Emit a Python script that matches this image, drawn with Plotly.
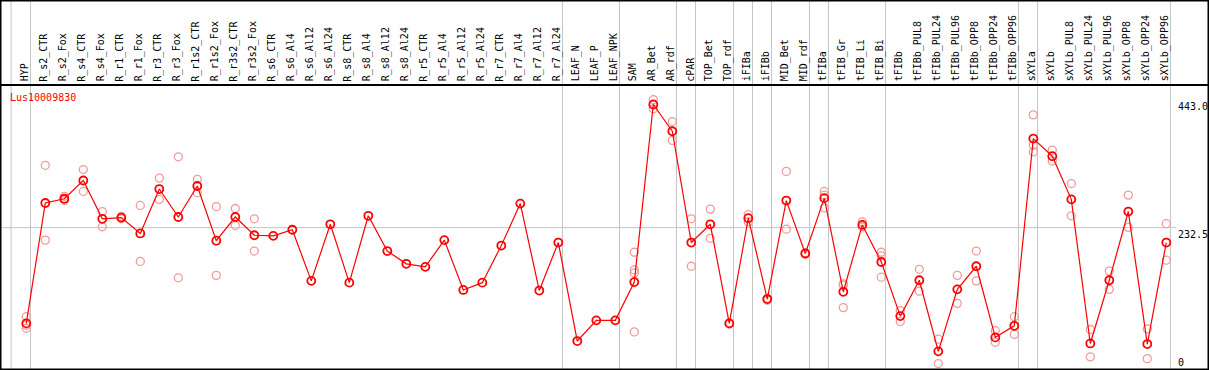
import plotly.graph_objects as go

title = "Lus10009830"

categories = [
    "HYP",
    "R_s2_CTR", "R_s2_Fox", "R_s4_CTR", "R_s4_Fox", "R_r1_CTR", "R_r1_Fox",
    "R_r3_CTR", "R_r3_Fox", "R_r1s2_CTR", "R_r1s2_Fox", "R_r3s2_CTR", "R_r3s2_Fox",
    "R_s6_CTR", "R_s6_Al4", "R_s6_Al12", "R_s6_Al24",
    "R_s8_CTR", "R_s8_Al4", "R_s8_Al12", "R_s8_Al24",
    "R_r5_CTR", "R_r5_Al4", "R_r5_Al12", "R_r5_Al24",
    "R_r7_CTR", "R_r7_Al4", "R_r7_Al12", "R_r7_Al24",
    "LEAF_N", "LEAF_P", "LEAF_NPK",
    "SAM", "AR_Bet", "AR_rdf",
    "cPAR", "TOP_Bet", "TOP_rdf", "iFIBa", "iFIBb", "MID_Bet", "MID_rdf",
    "tFIBa", "tFIB_Gr", "tFIB_Li", "tFIB_Bi",
    "tFIBb", "tFIBb_PUL8", "tFIBb_PUL24", "tFIBb_PUL96", "tFIBb_OPP8", "tFIBb_OPP24", "tFIBb_OPP96",
    "sXYLa", "sXYLb", "sXYLb_PUL8", "sXYLb_PUL24", "sXYLb_PUL96", "sXYLb_OPP8", "sXYLb_OPP24", "sXYLb_OPP96",
]

# number of categories in each separated group
group_sizes = [1, 28, 3, 3, 1, 2, 1, 1, 2, 1, 3, 7, 1, 7]

means = [
    75, 273, 280, 310, 247, 249, 223, 296, 250, 301, 211, 250, 220,
    219, 229, 145, 238, 142, 252, 194, 173, 168, 212, 130, 142, 203, 272, 129, 208,
    46, 80, 80,
    143, 435, 391,
    208, 238, 75, 248, 115, 277, 190, 281, 127, 237, 176,
    87, 146, 29, 131, 169, 52, 71,
    379, 350, 279, 42, 146, 259, 41, 208,
]

replicates = [
    [86, 67, 72], [335, 212], [284, 277, 280], [328, 292], [259, 234], [251, 247],
    [269, 177], [314, 279], [349, 150], [312, 290], [267, 154], [264, 236], [247, 194],
    [], [], [], [], [], [], [], [], [], [], [], [], [], [], [], [],
    [], [], [],
    [192, 163, 158, 61], [443, 428], [407, 376],
    [247, 169], [263, 215], [76, 74], [254, 242], [116, 113], [325, 230], [191, 189],
    [292, 286, 265], [140, 138, 101], [242, 234], [192, 186, 151],
    [96, 78], [164, 128], [49, 9], [154, 108], [194, 145], [63, 44], [86, 57],
    [418, 368, 357], [360, 342], [305, 252], [65, 20], [161, 131], [286, 233], [66, 17], [239, 179],
]

tick_values = [443.0, 232.5, 0]
tick_labels = ["443.0", "232.5", "0"]

W, H = 1209, 370
FONT = "DejaVu Sans Mono"
RED = "#ff0000"
PINK = "#f09a9a"
GRID = "#c4c4c4"

# pixel geometry
x_first_px, x_step_px = 26.3, 19.0
y_zero_px, y_scale = 369.0, 0.608
header_px = 85.0

x_range = [-x_first_px / x_step_px, (W - x_first_px) / x_step_px]
y_range = [-(H - y_zero_px) / y_scale, y_zero_px / y_scale]

xs = list(range(len(categories)))
rx, ry = [], []
for i, reps in enumerate(replicates):
    for v in reps:
        rx.append(i)
        ry.append(v)

fig = go.Figure()
fig.add_trace(go.Scatter(
    x=rx, y=ry, mode="markers",
    marker=dict(symbol="circle-open", size=8, color=PINK, line=dict(width=1.3, color=PINK)),
    hoverinfo="skip", showlegend=False,
))
fig.add_trace(go.Scatter(
    x=xs, y=means, mode="lines+markers",
    line=dict(color=RED, width=1.2),
    marker=dict(symbol="circle-open", size=8, color=RED, line=dict(width=1.8, color=RED)),
    showlegend=False,
))

shapes = []
# group separator lines
bounds = [-0.8]
idx = -1
for g in group_sizes:
    idx += g
    bounds.append(idx + 0.22)
for b in bounds:
    shapes.append(dict(type="line", xref="x", yref="paper", x0=b, x1=b, y0=0, y1=1,
                       line=dict(color=GRID, width=1), layer="below"))
# horizontal grid line at middle tick
shapes.append(dict(type="line", xref="paper", yref="y", x0=0, x1=1176 / W,
                   y0=tick_values[1], y1=tick_values[1],
                   line=dict(color=GRID, width=1), layer="below"))
# header separator
hy = 1 - header_px / H
shapes.append(dict(type="line", xref="paper", yref="paper", x0=0, x1=1, y0=hy, y1=hy,
                   line=dict(color="black", width=2)))
# border
shapes.append(dict(type="rect", xref="paper", yref="paper", x0=0, x1=1, y0=0, y1=1,
                   line=dict(color="black", width=3)))

annotations = []
label_y = 1 - 82.5 / H
for i, c in enumerate(categories):
    annotations.append(dict(
        x=i - 0.08, y=label_y, xref="x", yref="paper", text=c, showarrow=False,
        textangle=-90, xanchor="center", yanchor="bottom",
        font=dict(family=FONT, size=10, color="black"), borderpad=0,
    ))
annotations.append(dict(
    x=9 / W, y=1 - 97 / H, xref="paper", yref="paper", text=title, showarrow=False,
    xanchor="left", yanchor="middle", font=dict(family=FONT, size=10, color=RED), borderpad=0,
))
for v, t in zip(tick_values, tick_labels):
    annotations.append(dict(
        x=1177 / W, y=v, xref="paper", yref="y", text=t, showarrow=False,
        xanchor="left", yanchor="top" if v > 0 else "bottom",
        font=dict(family=FONT, size=10, color="black"), borderpad=0,
    ))

fig.update_layout(
    width=W, height=H,
    margin=dict(l=0, r=0, t=0, b=0),
    paper_bgcolor="white", plot_bgcolor="white",
    xaxis=dict(range=x_range, visible=False, fixedrange=True),
    yaxis=dict(range=y_range, visible=False, fixedrange=True),
    shapes=shapes, annotations=annotations,
    showlegend=False,
)

fig.write_html(
    "out.html",
    config={"displayModeBar": False},
    post_script="document.body.style.margin='0px';document.body.style.overflow='hidden';",
)
